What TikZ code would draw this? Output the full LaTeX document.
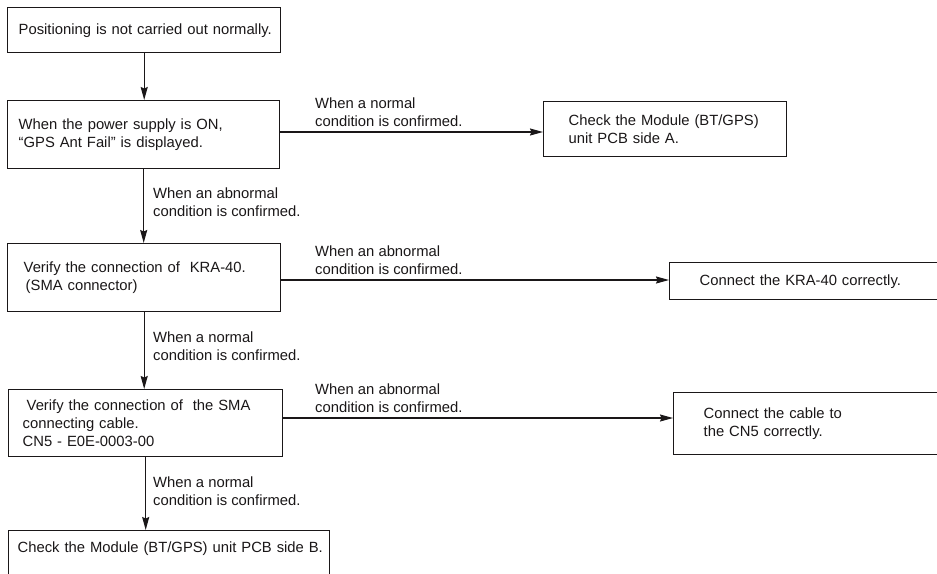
\documentclass[tikz,border=0pt]{standalone}
\usepackage{fontspec}
\setmainfont{Liberation Sans}
\usetikzlibrary{arrows.meta}
\definecolor{ink}{HTML}{1A1718}
\begin{document}
\begin{tikzpicture}[x=1pt,y=-1pt,
  txt/.style={font=\fontsize{14.8}{18}\selectfont, text=ink},
  box/.style={txt, draw=ink, line width=1.4pt, rectangle, align=left, anchor=north west, inner ysep=0pt},
  lbl/.style={txt, align=left, anchor=north west, inner sep=0pt},
  arr/.style={draw=ink, line width=1.3pt, -{Stealth[length=13pt,width=7pt,inset=1.5pt]}}]
\path[clip] (0,0) rectangle (937,573);
\fill[white] (0,0) rectangle (937,573);

% left column
\node[box, minimum width=273pt, minimum height=45pt, inner xsep=11pt, text width=251pt] (b1) at (7,7)
  {\mbox{Positioning is not carried out normally.}};
\node[box, minimum width=272pt, minimum height=68pt, inner xsep=11pt, text width=250pt] (b2) at (7,100)
  {When the power supply is ON,\\``GPS Ant Fail'' is displayed.};
\node[box, minimum width=273pt, minimum height=68pt, inner xsep=16pt, text width=241pt] (b3) at (7,243)
  {\mbox{Verify the connection of\ \ KRA-40.}\\\hspace*{2pt}(SMA connector)};
\node[box, minimum width=274pt, minimum height=67pt, inner xsep=14pt, text width=246pt] (b4) at (8,389)
  {\mbox{\hspace*{4pt}Verify the connection of\ \ the SMA}\\connecting cable.\\CN5 - E0E-0003-00};
\node[box, minimum width=321pt, inner xsep=9pt, text width=303pt, inner ysep=11pt, text height=11pt, text depth=25pt] (b5) at (8,530)
  {\mbox{Check the Module (BT/GPS) unit PCB side B.}};

% right column
\node[box, minimum width=243pt, minimum height=55pt, inner xsep=25pt, text width=193pt] (bA) at (543,101)
  {\mbox{Check the Module (BT/GPS)}\\unit PCB side A.};
\node[box, minimum width=300pt, minimum height=37pt, inner xsep=30pt, text width=240pt] (bK) at (669,262)
  {\mbox{Connect the KRA-40 correctly.}};
\node[box, minimum width=300pt, minimum height=62pt, inner xsep=30pt, text width=240pt] (bC) at (673,392)
  {Connect the cable to\\the CN5 correctly.};

% connector labels
\node[lbl] (l2A) at (315,97.5) {When a normal\\condition is confirmed.};
\node[lbl] (l23) at (153,187.5) {When an abnormal\\condition is confirmed.};
\node[lbl] (l3K) at (315,245.5) {When an abnormal\\condition is confirmed.};
\node[lbl] (l34) at (153,331.5) {When a normal\\condition is confirmed.};
\node[lbl] (l4C) at (315,383.5) {When an abnormal\\condition is confirmed.};
\node[lbl] (l45) at (153,476.5) {When a normal\\condition is confirmed.};

% vertical connectors
\draw[arr] (b1.south) -- (b1.south |- b2.north);
\draw[arr] (b2.south) -- (b2.south |- b3.north);
\draw[arr] (b3.south) -- (b3.south |- b4.north);
\draw[arr] (b4.south) -- (b4.south |- b5.north);

% horizontal connectors
\coordinate (yA) at (0,132);
\coordinate (yK) at (0,280);
\coordinate (yC) at (0,418);
\draw[arr] (b2.east |- yA) -- (bA.west |- yA);
\draw[arr] (b3.east |- yK) -- (bK.west |- yK);
\draw[arr] (b4.east |- yC) -- (bC.west |- yC);
\end{tikzpicture}
\end{document}
